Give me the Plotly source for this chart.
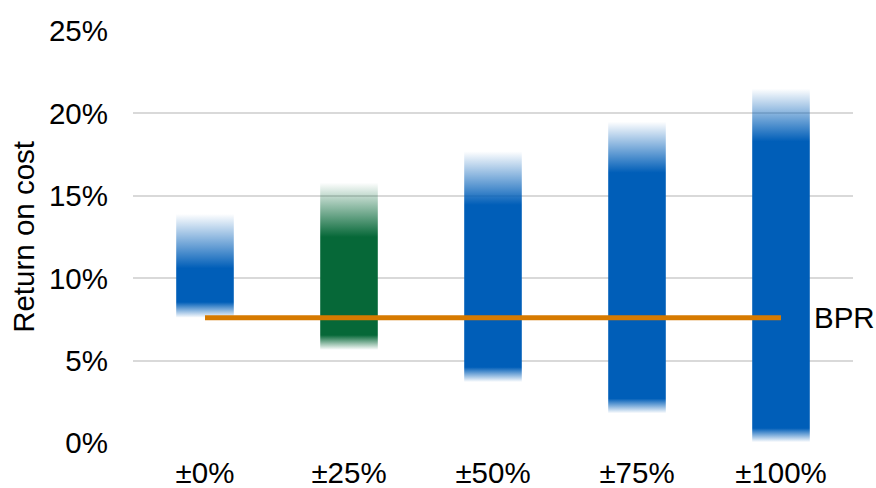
import plotly.graph_objects as go

# Sensitivity scenarios and their return-on-cost ranges (percent)
categories = ["±0%", "±25%", "±50%", "±75%", "±100%"]
range_low = [7.6, 5.65, 3.7, 1.8, 0.05]      # bottom of faded tail
solid_low = [8.55, 6.55, 4.6, 2.7, 0.9]      # bottom of solid band
solid_high = [10.6, 12.5, 14.45, 16.4, 18.3]  # top of solid band
range_high = [13.9, 15.8, 17.7, 19.5, 21.5]   # top of faded tail
bar_colors = ["0,94,184", "6,104,56", "0,94,184", "0,94,184", "0,94,184"]

bpr_value = 7.6
y_ticks = [0, 5, 10, 15, 20, 25]
y_tick_text = [f"{v}%" for v in y_ticks]

BAR_HALF = 0.2
FONT = "Arial, Liberation Sans, sans-serif"
FONT_SIZE = 29.5

fig = go.Figure()

for i, cat in enumerate(categories):
    rgb = bar_colors[i]
    solid = f"rgba({rgb},1)"
    clear = f"rgba({rgb},0)"
    lo, hi = range_low[i], range_high[i]
    span = hi - lo
    p1 = (solid_low[i] - lo) / span
    p2 = (solid_high[i] - lo) / span

    # one rectangle per scenario; the vertical gradient fades both tails out
    xs = [i - BAR_HALF, i + BAR_HALF, i + BAR_HALF, i - BAR_HALF, i - BAR_HALF]
    ys = [lo, lo, hi, hi, lo]
    fig.add_trace(go.Scatter(
        x=xs, y=ys, mode="lines", fill="toself",
        line=dict(width=0, color="rgba(0,0,0,0)"),
        fillgradient=dict(
            type="vertical", start=lo, stop=hi,
            colorscale=[[0, clear], [p1, solid], [p2, solid], [1, clear]],
        ),
        hoverinfo="skip", showlegend=False, name=cat,
    ))

# BPR reference line across the scenarios
fig.add_trace(go.Scatter(
    x=[0, len(categories) - 1], y=[bpr_value, bpr_value], mode="lines",
    line=dict(color="rgb(214,122,0)", width=5),
    hoverinfo="skip", showlegend=False,
))

fig.add_annotation(
    x=len(categories) - 1, y=bpr_value, xref="x", yref="y",
    text="BPR", showarrow=False, xanchor="left", yanchor="middle",
    xshift=31, font=dict(family=FONT, size=FONT_SIZE, color="black"),
)

fig.add_annotation(
    x=-0.153, y=0.5, xref="paper", yref="paper",
    text="Return on cost", textangle=-90, showarrow=False,
    xanchor="center", yanchor="middle",
    font=dict(family=FONT, size=FONT_SIZE, color="black"),
)

fig.update_layout(
    width=876, height=488,
    margin=dict(l=133, r=23, t=31, b=45, autoexpand=False),
    paper_bgcolor="white", plot_bgcolor="white",
    font=dict(family=FONT, size=FONT_SIZE, color="black"),
    xaxis=dict(
        range=[-0.5, len(categories) - 0.5],
        tickvals=list(range(len(categories))), ticktext=categories,
        showgrid=False, zeroline=False, showline=False, ticks="",
        ticklabelstandoff=9, automargin=False,
    ),
    yaxis=dict(
        range=[0, 25], tickvals=y_ticks, ticktext=y_tick_text,
        showgrid=True, gridcolor="#d9d9d9", gridwidth=2,
        zeroline=False, showline=False, ticks="",
        ticklabelstandoff=24, automargin=False,
    ),
)

fig.write_html("out.html")
